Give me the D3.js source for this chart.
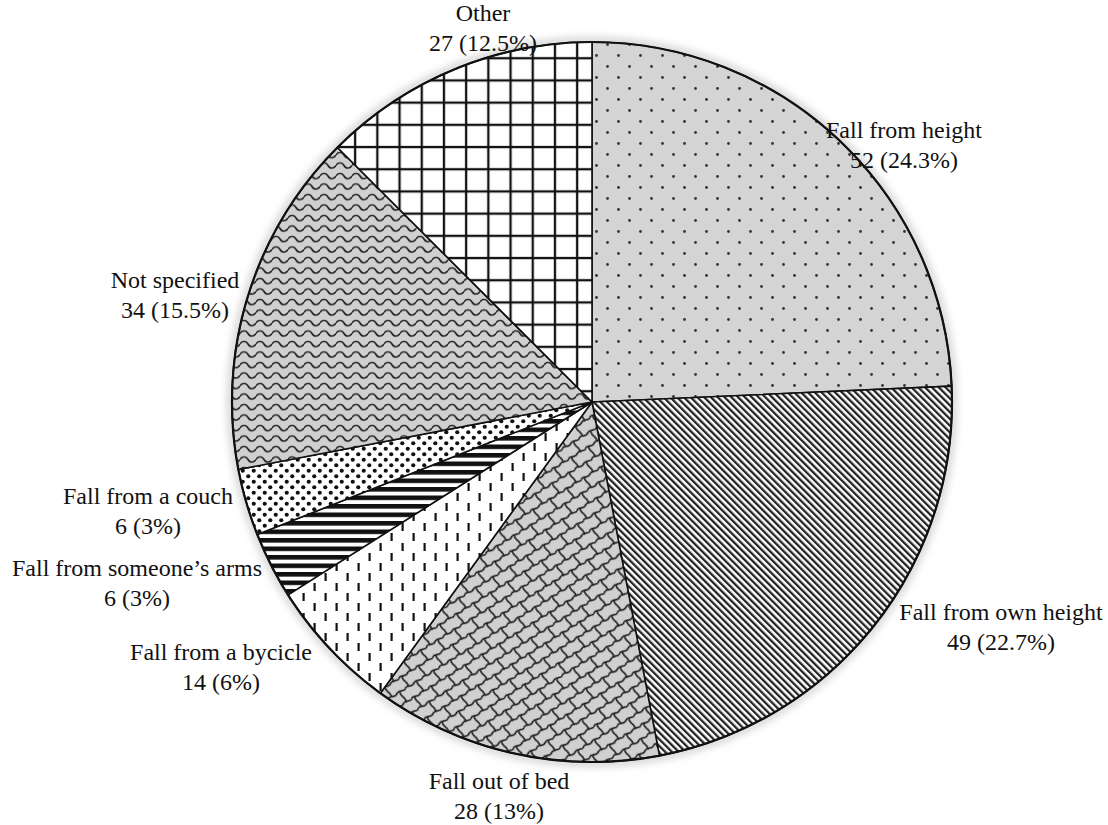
<!DOCTYPE html>
<html>
<head>
<meta charset="utf-8">
<script src="https://cdn.jsdelivr.net/npm/d3@7"></script>
<style>
  html, body { margin: 0; padding: 0; background: #fff; }
  svg { display: block; }
</style>
</head>
<body>
<svg id="chart" width="1108" height="825"></svg>
<script>
// ---- data ----
const categories = ["Fall from height", "Fall from own height", "Fall out of bed", "Fall from a bycicle",
                    "Fall from someone\u2019s arms", "Fall from a couch", "Not specified", "Other"];
const counts = [52, 49, 28, 14, 6, 6, 34, 27];
const percents = [24.3, 22.7, 13, 6, 3, 3, 15.5, 12.5];
const percentLabels = ["24.3%", "22.7%", "13%", "6%", "3%", "3%", "15.5%", "12.5%"];

// ---- layout ----
const cx = 592, cy = 402, R = 360;
const labelPos = {
  "Fall from height": [904, 131],
  "Fall from own height": [1001, 613],
  "Fall out of bed": [499, 782],
  "Fall from a bycicle": [221, 653],
  "Fall from someone\u2019s arms": [137, 569],
  "Fall from a couch": [148, 497],
  "Not specified": [175, 281],
  "Other": [483, 14]
};
const lineGap = 30;
const FONT = "'Liberation Serif', 'Times New Roman', serif";

const svg = d3.select("#chart");
const defs = svg.append("defs");

function pat(id, w, h, opts = {}) {
  const p = defs.append("pattern").attr("id", id)
    .attr("patternUnits", "userSpaceOnUse")
    .attr("width", w).attr("height", h)
    .attr("x", opts.x || 0).attr("y", opts.y || 0);
  if (opts.transform) p.attr("patternTransform", opts.transform);
  p.append("rect").attr("width", w).attr("height", h).attr("fill", opts.bg || "#fff");
  return p;
}
// 0 dots on gray
{
  const p = pat("p0", 22, 22, { bg: "#d4d4d4", x: 593, y: 44 });
  [[5.5, 5.5], [16.5, 16.5]].forEach(([x, y]) =>
    p.append("circle").attr("cx", x).attr("cy", y).attr("r", 1.4).attr("fill", "#333"));
}
// 1 diagonal stripes
{
  const p = pat("p1", 4.8, 10, { transform: "rotate(-45)" });
  p.append("rect").attr("x", 0).attr("y", 0).attr("width", 2.3).attr("height", 10).attr("fill", "#222");
}
// 2 interlocking tiles on gray
{
  const p = pat("p2", 20, 24, { bg: "#d0d0d0", transform: "rotate(-32)" });
  p.append("path")
    .attr("d",
      "M0,0 C4,-3 7,3 10,0 C13,-3 16,3 20,0" +
      "M0,12 C4,9 7,15 10,12 C13,9 16,15 20,12" +
      "M0,24 C4,21 7,27 10,24 C13,21 16,27 20,24" +
      "M3.5,0 C1,4 6,8 3.5,12" +
      "M13.5,12 C11,16 16,20 13.5,24")
    .attr("fill", "none").attr("stroke", "#1a1a1a").attr("stroke-width", 1.6).attr("stroke-linecap", "round");
}
// 3 vertical dashes on white
{
  const p = pat("p3", 22, 20, { x: 3, y: 0 });
  p.append("rect").attr("x", 4.5).attr("y", 1).attr("width", 2.2).attr("height", 8).attr("fill", "#111");
  p.append("rect").attr("x", 15.5).attr("y", 11).attr("width", 2.2).attr("height", 8).attr("fill", "#111");
}
// 4 horizontal thick stripes
{
  const p = pat("p4", 10, 8.5);
  p.append("rect").attr("x", 0).attr("y", 0).attr("width", 10).attr("height", 4.6).attr("fill", "#111");
}
// 5 black dots on white
{
  const p = pat("p5", 11, 11);
  [[2.75, 2.75], [8.25, 8.25]].forEach(([x, y]) =>
    p.append("circle").attr("cx", x).attr("cy", y).attr("r", 2.1).attr("fill", "#111"));
}
// 6 waves on gray
{
  const p = pat("p6", 16, 10.5, { bg: "#d0d0d0" });
  p.append("path").attr("d", "M0,5 C2,1.5 6,1.5 8,5 C10,8.5 14,8.5 16,5")
    .attr("fill", "none").attr("stroke", "#222").attr("stroke-width", 1.6);
}
// 7 grid on white
{
  const p = pat("p7", 22.2, 22.2, { x: 362.5, y: 78 });
  p.append("rect").attr("x", -1.1).attr("y", 0).attr("width", 2.3).attr("height", 22.2).attr("fill", "#111");
  p.append("rect").attr("x", 21.1).attr("y", 0).attr("width", 2.3).attr("height", 22.2).attr("fill", "#111");
  p.append("rect").attr("x", 0).attr("y", -1.1).attr("width", 22.2).attr("height", 2.3).attr("fill", "#111");
  p.append("rect").attr("x", 0).attr("y", 21.1).attr("width", 22.2).attr("height", 2.3).attr("fill", "#111");
}
const fills = ["url(#p0)", "url(#p1)", "url(#p2)", "url(#p3)", "url(#p4)", "url(#p5)", "url(#p6)", "url(#p7)"];

const f = defs.append("filter").attr("id", "soft").attr("x", "-10%").attr("y", "-10%").attr("width", "120%").attr("height", "120%");
f.append("feGaussianBlur").attr("stdDeviation", 4);

const data = categories.map((c, i) => ({ cat: c, count: counts[i], pct: percents[i], pl: percentLabels[i], i }));

const pie = d3.pie().sort(null).value(d => d.pct).startAngle(0).endAngle(2 * Math.PI);
const arc = d3.arc().innerRadius(0).outerRadius(R);

const g = svg.append("g").attr("transform", `translate(${cx},${cy})`);
g.append("circle").attr("r", R + 1).attr("fill", "none").attr("stroke", "#bbb")
  .attr("stroke-width", 5).attr("filter", "url(#soft)");
g.selectAll("path.slice").data(pie(data)).join("path")
  .attr("class", "slice")
  .attr("d", arc)
  .attr("fill", d => fills[d.data.i])
  .attr("stroke", "#111")
  .attr("stroke-width", 1.6)
  .attr("stroke-linejoin", "round");
g.append("circle").attr("r", R).attr("fill", "none").attr("stroke", "#111").attr("stroke-width", 2.2);

// labels
const lab = svg.append("g")
  .attr("font-family", FONT)
  .attr("font-size", 24)
  .attr("fill", "#111")
  .attr("text-anchor", "middle");
data.forEach(d => {
  const [x, y] = labelPos[d.cat];
  const t = lab.append("text").attr("x", x).attr("y", y + 7);
  t.append("tspan").attr("x", x).text(d.cat);
  t.append("tspan").attr("x", x).attr("dy", lineGap).text(`${d.count} (${d.pl})`);
});
</script>
</body>
</html>
